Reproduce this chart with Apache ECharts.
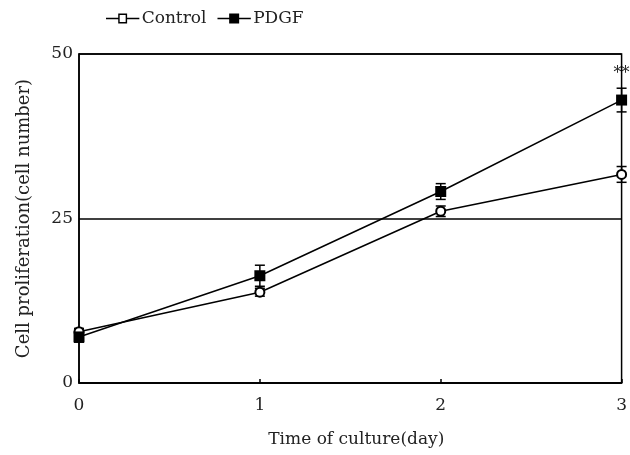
<!DOCTYPE html>
<html>
<head>
<meta charset="utf-8">
<script src="https://cdn.jsdelivr.net/npm/echarts@6/dist/echarts.min.js"></script>
<style>
  html, body { margin: 0; padding: 0; background: #fff; }
  #chart { width: 630px; height: 455px; }
</style>
</head>
<body>
<div id="chart"></div>
<script>
// Culture time in days
const days = [0, 1, 2, 3];
// Mean cell counts and error (SD) for each group
const controlValues = [7.8, 13.8, 26.1, 31.7];
const controlErrors = [0.5, 0.6, 0.8, 1.2];
const pdgfValues = [7.0, 16.3, 29.1, 43.0];
const pdgfErrors = [0.8, 1.6, 1.2, 1.8];
// Significance marks above PDGF points
const pdgfMarks = ['', '', '', '**'];
const yTicks = [0, 25, 50];

const chart = echarts.init(document.getElementById('chart'));
const textColor = '#222';
const fontFamily = '"DejaVu Serif", "Liberation Serif", serif';

function errorBarSeries(values, errors, marks) {
  return {
    type: 'custom',
    silent: true,
    z: 4,
    data: days.map((d, i) => [d, values[i], errors[i], marks ? marks[i] : '']),
    renderItem: function (params, api) {
      const x = api.value(0), v = api.value(1), e = api.value(2);
      const top = api.coord([x, v + e]);
      const bot = api.coord([x, v - e]);
      const cap = 5;
      const style = { stroke: '#000', lineWidth: 1.5 };
      const children = [
        { type: 'line', shape: { x1: top[0], y1: top[1], x2: bot[0], y2: bot[1] }, style: style },
        { type: 'line', shape: { x1: top[0] - cap, y1: top[1], x2: top[0] + cap, y2: top[1] }, style: style },
        { type: 'line', shape: { x1: bot[0] - cap, y1: bot[1], x2: bot[0] + cap, y2: bot[1] }, style: style }
      ];
      const mark = api.value(3);
      if (mark) {
        children.push({
          type: 'text',
          style: {
            text: mark, x: top[0], y: top[1] - 6,
            align: 'center', verticalAlign: 'bottom',
            fill: textColor, font: '16px ' + fontFamily
          }
        });
      }
      return { type: 'group', children: children };
    }
  };
}

// Legend icons: line with an open square / a filled square
const lineLegendOpen = 'path://M0,4.4h11v1.2h-11z M19,4.4h11v1.2h-11z M11,0.5h8v1.3h-8z M11,8.2h8v1.3h-8z M11,0.5h1.3v9h-1.3z M17.7,0.5h1.3v9h-1.3z';
const lineLegendFilled = 'path://M0,4.4h30v1.2h-30z M10.5,0.5h9v9h-9z';

chart.setOption({
  animation: false,
  backgroundColor: '#fff',
  textStyle: { fontFamily: fontFamily, color: textColor },
  legend: {
    top: 5,
    left: 101,
    itemGap: 11,
    itemWidth: 34,
    itemHeight: 10,
    textStyle: { fontSize: 17, color: textColor, fontFamily: fontFamily, padding: [0, 0, 0, -3] },
    data: [
      { name: 'Control', icon: lineLegendOpen, itemStyle: { color: '#000', borderWidth: 0 } },
      { name: 'PDGF', icon: lineLegendFilled, itemStyle: { color: '#000', borderWidth: 0 } }
    ]
  },
  grid: {
    left: 79, right: 8, top: 54, bottom: 72,
    show: true, borderColor: '#000', borderWidth: 1.5, backgroundColor: 'transparent'
  },
  xAxis: {
    type: 'value',
    min: 0, max: 3, interval: 1,
    name: 'Time of culture(day)',
    nameLocation: 'middle',
    nameGap: 48,
    nameTextStyle: { fontSize: 17, color: textColor, fontFamily: fontFamily, padding: [0, 0, 0, 12] },
    axisLine: { lineStyle: { color: '#000', width: 1.5 } },
    axisTick: { inside: true, length: 4, lineStyle: { color: '#000', width: 1.5 } },
    axisLabel: { margin: 14, fontSize: 17, color: textColor, fontFamily: fontFamily },
    splitLine: { show: false }
  },
  yAxis: {
    type: 'value',
    min: yTicks[0], max: yTicks[yTicks.length - 1], interval: 25,
    name: 'Cell proliferation(cell number)',
    nameLocation: 'middle',
    nameGap: 46,
    nameTextStyle: { fontSize: 18, color: textColor, fontFamily: fontFamily },
    axisLine: { lineStyle: { color: '#000', width: 1.5 } },
    axisTick: { show: false },
    axisLabel: { margin: 6, fontSize: 17, color: textColor, fontFamily: fontFamily },
    splitLine: { show: true, lineStyle: { color: '#000', width: 1.5 } }
  },
  series: [
    {
      name: 'Control',
      type: 'line',
      data: days.map((d, i) => [d, controlValues[i]]),
      symbol: 'emptyCircle',
      symbolSize: 9,
      clip: false,
      lineStyle: { color: '#000', width: 1.5 },
      itemStyle: { color: '#000', borderColor: '#000', borderWidth: 1.5 },
      z: 5
    },
    {
      name: 'PDGF',
      type: 'line',
      data: days.map((d, i) => [d, pdgfValues[i]]),
      symbol: 'rect',
      symbolSize: 11,
      clip: false,
      lineStyle: { color: '#000', width: 1.5 },
      itemStyle: { color: '#000' },
      z: 6
    },
    errorBarSeries(controlValues, controlErrors, null),
    errorBarSeries(pdgfValues, pdgfErrors, pdgfMarks)
  ]
});
</script>
</body>
</html>
